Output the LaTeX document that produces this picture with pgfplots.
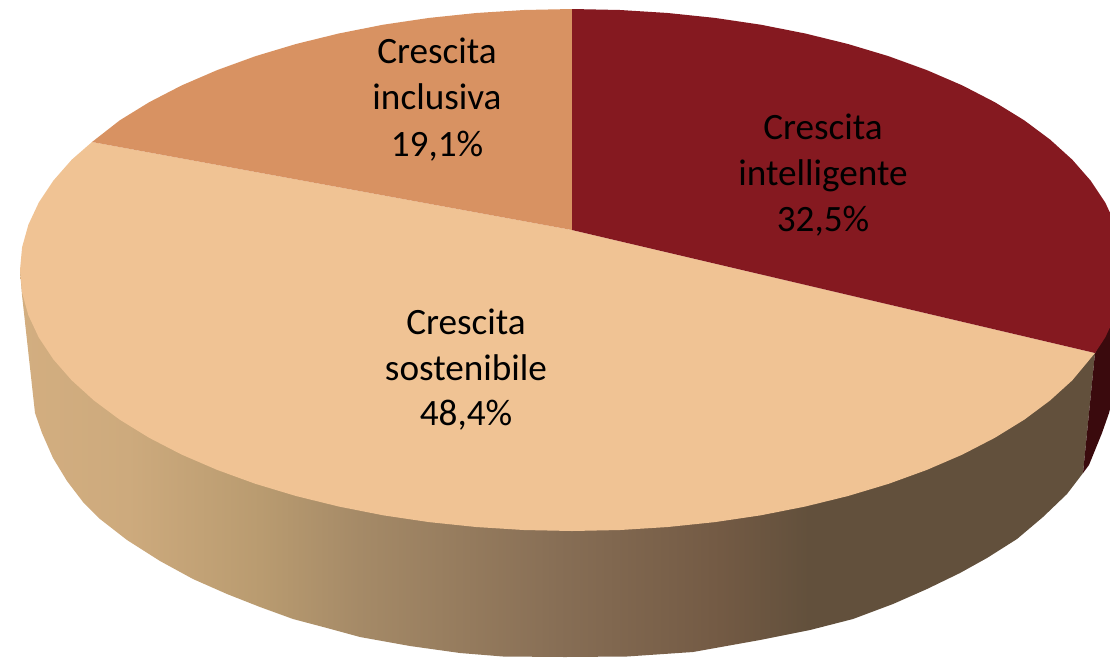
\documentclass[border=0pt]{standalone}
\usepackage{pgfplots}
\pgfplotsset{compat=1.18}
\usepackage{fontspec}
\setmainfont{Carlito}
\definecolor{cred}{RGB}{133,25,32}
\definecolor{cpeach}{RGB}{240,195,148}
\definecolor{corange}{RGB}{216,146,98}
\definecolor{credwall}{RGB}{58,10,13}
\pgfdeclarehorizontalshading{wall}{100bp}{
rgb(0bp)=(0.827,0.682,0.502);
rgb(25bp)=(0.827,0.682,0.502);
rgb(30bp)=(0.804,0.667,0.490);
rgb(36.2bp)=(0.725,0.608,0.439);
rgb(40.8bp)=(0.647,0.541,0.404);
rgb(50.1bp)=(0.529,0.431,0.333);
rgb(57.6bp)=(0.451,0.353,0.267);
rgb(61.7bp)=(0.384,0.314,0.235);
rgb(75bp)=(0.384,0.314,0.235);
rgb(100bp)=(0.384,0.314,0.235)}
\newcommand{\lab}[3]{\node[anchor=base,inner sep=0pt,font=\fontsize{37.2}{44}\selectfont] at (axis cs:#1,#2) {#3};}
\begin{document}
\begin{tikzpicture}
\begin{axis}[x=1pt,y=-1pt,xmin=0,xmax=1110,ymin=0,ymax=657,hide axis,scale only axis,no markers,clip=true]
\path (axis cs:0,0) rectangle (axis cs:1110,657);
% side wall of the peach slice
\addplot[draw=none,shade,shading=wall,forget plot] coordinates {
(20,270)(22,295)(35,413)(42,433)(53,458)(67,481)(83,502)(100,519)(127,540)(160,561)(193,579)(227,594)(260,607)(293,619)(327,628)(360,637)(410,646)(460,653)(503,656.5)(565,657)(627,656.5)(693,652)(760,640)(810,630)(853,619)(893,604)(927,589)(960,573)(987,558)(1017,539)(1043,517)(1067,494)(1083,473)(1095,353)} --cycle;
% side wall of the red slice
\addplot[draw=none,fill=credwall,forget plot] coordinates {
(1095,353)(1083,473)(1089,465)(1102,433)(1109,413)(1116,385)(1124,320)(1124,290)} --cycle;
% top faces
\addplot[draw=none,fill=cpeach,forget plot] coordinates {
(572,230)(92,142)(71.7,159.7)(53.3,180.7)(38.8,202.5)(28.4,224.7)(22.1,247.2)(20,270)(22.1,292.8)(28.4,315.3)(38.8,337.5)(53.3,359.3)(71.7,380.3)(94,400.5)(119.8,419.7)(149.2,437.8)(181.7,454.6)(217.2,469.9)(255.4,483.8)(296,496)(338.7,506.5)(383.2,515.3)(429.1,522.1)(476.2,527)(523.9,530)(572,531)(620.1,530)(667.8,527)(714.9,522.1)(760.8,515.3)(805.3,506.5)(848,496)(888.6,483.8)(926.8,469.9)(962.3,454.6)(994.8,437.8)(1024.2,419.7)(1050,400.5)(1072.3,380.3)(1095,353)} --cycle;
\addplot[draw=none,fill=corange,forget plot] coordinates {
(572,230)(572,9)(523.9,10)(476.2,13)(429.1,17.9)(383.2,24.7)(338.7,33.5)(296,44)(255.4,56.2)(217.2,70.1)(181.7,85.4)(149.2,102.2)(119.8,120.3)(92,142)} --cycle;
\addplot[draw=none,fill=cred,forget plot] coordinates {
(572,230)(572,9)(620.1,10)(667.8,13)(714.9,17.9)(760.8,24.7)(805.3,33.5)(848,44)(888.6,56.2)(926.8,70.1)(962.3,85.4)(994.8,102.2)(1024.2,120.3)(1050,139.5)(1072.3,159.7)(1090.7,180.7)(1105.2,202.5)(1115.6,224.7)(1121.9,247.2)(1124,270)(1121.9,292.8)(1115.6,315.3)(1105.2,337.5)(1095,353)} --cycle;
\lab{437}{63}{Crescita}
\lab{437}{109}{inclusiva}
\lab{437}{156}{19,1\%}
\lab{823}{139}{Crescita}
\lab{823}{185}{intelligente}
\lab{823}{231}{32,5\%}
\lab{466}{334}{Crescita}
\lab{466}{380}{sostenibile}
\lab{466}{425}{48,4\%}
\end{axis}
\end{tikzpicture}
\end{document}
